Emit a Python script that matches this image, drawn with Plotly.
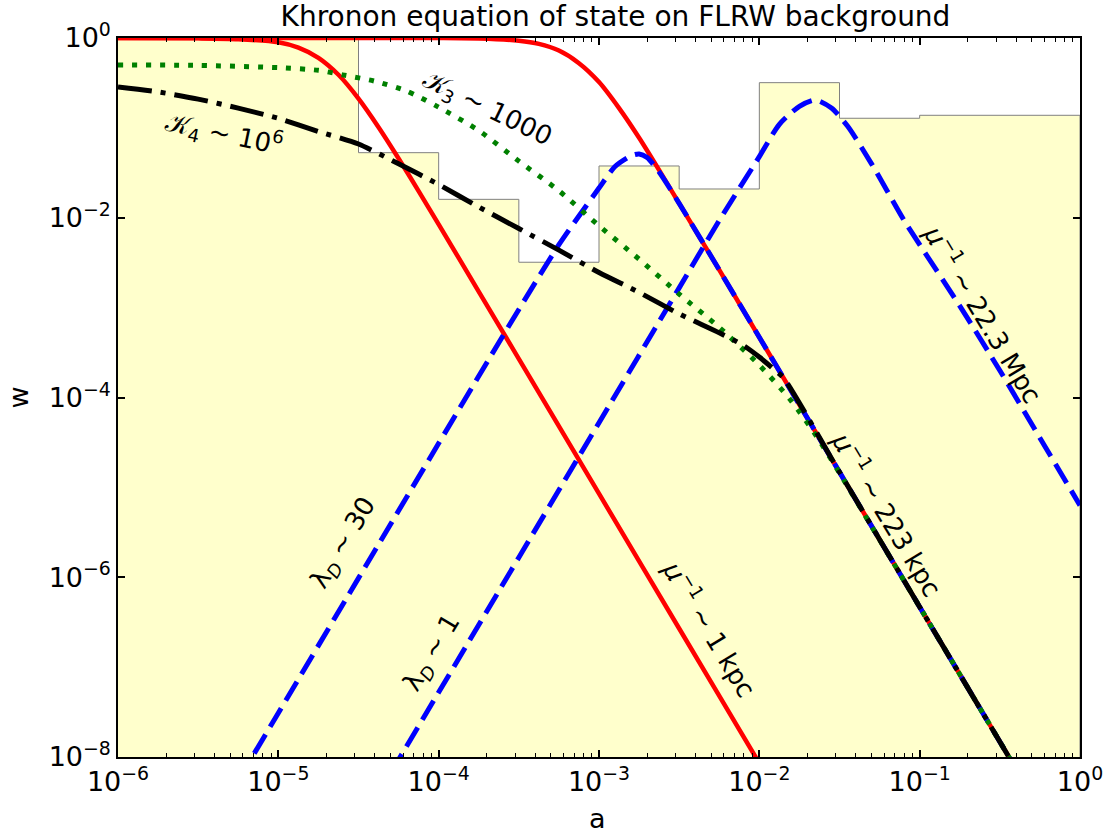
import numpy as np
import plotly.graph_objects as go

# shaded background: log10 bin edges in a and log10 bin heights in w
bin_edges_loga = [-6.0, -4.5, -4.0, -3.5, -3.0, -2.5, -2.0, -1.5, -1.0, 0.0]
bin_logw = [0.3, -1.276, -1.795, -2.495, -1.424, -1.68, -0.497, -0.893, -0.86]

# red solid, mu^-1 ~ 1 kpc
red_kpc_loga = [-6.0, -5.5, -5.25, -5.0, -4.875, -4.75, -4.625, -4.5, -4.375, -4.25,
                -4.125, -4.0, -3.75, -3.5, -3.0, -2.5, -2.0, -1.9]
red_kpc_logw = [0.0, -0.004, -0.013, -0.048, -0.107, -0.22, -0.409, -0.674, -0.992, -1.34,
                -1.703, -2.074, -2.821, -3.57, -5.07, -6.57, -8.07, -8.37]

# red solid, mu^-1 ~ 223 kpc
red_223_loga = [-6.0, -4.0, -3.75, -3.5, -3.375, -3.25, -3.125, -3.0, -2.875, -2.75,
                -2.625, -2.5, -2.25, -2.0, -1.5, -1.0, -0.5, -0.35]
red_223_logw = [0.0, 0.0, -0.005, -0.03, -0.065, -0.14, -0.28, -0.49, -0.78, -1.11,
                -1.47, -1.84, -2.58, -3.33, -4.83, -6.33, -7.83, -8.28]

# blue dashed, lambda_D ~ 30
blue_30_loga = [-5.25, -5.0, -4.5, -4.0, -3.5, -3.25, -3.125, -3.0, -2.9, -2.8, -2.75,
                -2.7, -2.625, -2.5, -2.25, -2.0, -1.5, -1.0, -0.5, -0.35]
blue_30_logw = [-8.26, -7.51, -6.01, -4.51, -3.02, -2.30, -1.98, -1.67, -1.43, -1.31, -1.29,
                -1.33, -1.49, -1.84, -2.58, -3.33, -4.83, -6.33, -7.83, -8.28]

# blue dashed, lambda_D ~ 1 (mu^-1 ~ 22.3 Mpc)
blue_1_loga = [-4.3, -4.0, -3.5, -3.0, -2.5, -2.25, -2.0, -1.875, -1.75, -1.65, -1.55,
               -1.45, -1.3, -1.1, -1.0, -0.75, -0.5, -0.25, 0.0]
blue_1_logw = [-8.18, -7.28, -5.78, -4.28, -2.78, -2.03, -1.32, -0.96, -0.76, -0.69, -0.78,
               -0.98, -1.40, -2.02, -2.30, -2.98, -3.70, -4.45, -5.20]

# green dotted, K3 ~ 1000
green_loga = [-6.0, -5.5, -5.0, -4.75, -4.6, -4.4, -4.2, -4.0, -3.75, -3.5, -3.25, -3.0,
              -2.75, -2.5, -2.25, -2.0, -1.8, -1.64, -1.5, -1.0, -0.5, -0.35]
green_logw = [-0.30, -0.305, -0.33, -0.36, -0.41, -0.48, -0.59, -0.77, -1.03, -1.37, -1.70,
              -2.09, -2.46, -2.85, -3.22, -3.64, -4.04, -4.44, -4.84, -6.33, -7.83, -8.28]

# black dash-dot, K4 ~ 10^6
black_loga = [-6.0, -5.75, -5.5, -5.25, -5.0, -4.75, -4.5, -4.25, -4.0, -3.75, -3.5, -3.25,
              -3.0, -2.75, -2.5, -2.25, -2.1, -2.0, -1.9, -1.85, -1.5, -1.0, -0.5, -0.35]
black_logw = [-0.545, -0.60, -0.68, -0.78, -0.894, -1.04, -1.18, -1.40, -1.63, -1.88, -2.12,
              -2.36, -2.61, -2.83, -3.07, -3.28, -3.42, -3.55, -3.70, -3.78, -4.83, -6.33,
              -7.83, -8.28]

x_tick_exps = [-6, -5, -4, -3, -2, -1, 0]
y_tick_exps = [-8, -6, -4, -2, 0]

FONT = "DejaVu Sans"

fig = go.Figure()

# background histogram as a closed step polygon
step_x, step_y = [], []
for i, v in enumerate(bin_logw):
    step_x += [bin_edges_loga[i], bin_edges_loga[i + 1]]
    step_y += [v, v]
step_x += [bin_edges_loga[-1], bin_edges_loga[0]]
step_y += [-10, -10]
fig.add_trace(go.Scatter(
    x=10 ** np.array(step_x), y=10 ** np.array(step_y),
    fill="toself", fillcolor="#FFFFCC", mode="lines",
    line={"color": "#808080", "width": 1}, hoverinfo="skip", showlegend=False,
))

curves = [
    (red_kpc_loga, red_kpc_logw, "red", 4.5, "solid"),
    (red_223_loga, red_223_logw, "red", 4.5, "solid"),
    (blue_30_loga, blue_30_logw, "blue", 5, "22px,9px"),
    (blue_1_loga, blue_1_logw, "blue", 5, "22px,9px"),
    (green_loga, green_logw, "green", 5, "5px,9px"),
    (black_loga, black_logw, "black", 5, "34px,9px,5px,9px"),
]
for la, lw, color, width, dash in curves:
    fig.add_trace(go.Scatter(
        x=10 ** np.array(la), y=10 ** np.array(lw), mode="lines",
        line={"color": color, "width": width, "dash": dash, "shape": "spline", "smoothing": 0.7},
        showlegend=False,
    ))

# rotated curve labels (positions in log10 units)
labels = [
    ("𝒦<sub>4</sub> ~ 10<sup>6</sup>", -5.333, -1.057, 12),
    ("𝒦<sub>3</sub> ~ 1000", -3.70, -0.782, 26),
    ("λ<sub><i>D</i></sub> ~ 30", -4.595, -5.62, -59),
    ("λ<sub><i>D</i></sub> ~ 1", -4.043, -6.844, -59),
    ("<i>μ</i><sup>−1</sup> ~ 1 kpc", -2.305, -6.566, 59),
    ("<i>μ</i><sup>−1</sup> ~ 223 kpc", -1.200, -5.287, 59),
    ("<i>μ</i><sup>−1</sup> ~ 22.3 Mpc", -0.600, -3.062, 59),
]
for text, x, y, ang in labels:
    fig.add_annotation(x=x, y=y, xref="x", yref="y", text=text, showarrow=False,
                       textangle=ang, font={"family": FONT, "size": 26, "color": "black"})

# axis titles
fig.add_annotation(x=0, y=0.5, xref="paper", yref="paper", xshift=-100, text="w",
                   xanchor="center", yanchor="middle", showarrow=False, textangle=-90,
                   font={"family": FONT, "size": 27, "color": "black"})
fig.add_annotation(x=0.498, y=0, xref="paper", yref="paper", yshift=-61, text="a",
                   xanchor="center", yanchor="middle", showarrow=False,
                   font={"family": FONT, "size": 27, "color": "black"})

axis_common = dict(
    type="log", showgrid=False, zeroline=False, showline=True, linecolor="black",
    linewidth=1.5, mirror="ticks", ticks="inside", ticklen=7, tickwidth=1.5,
    tickcolor="black", tickfont={"family": FONT, "size": 27, "color": "black"},
    automargin=False,
)
fig.update_xaxes(
    range=[-6, 0],
    tickvals=[10.0 ** e for e in x_tick_exps],
    ticktext=[f"10<sup>{'−' if e < 0 else ''}{abs(e)}</sup>" for e in x_tick_exps],
    minor={"tickvals": [k * 10.0 ** e for e in range(-6, 0) for k in range(2, 10)],
           "ticks": "inside", "ticklen": 4, "tickwidth": 1, "tickcolor": "black"},
    **axis_common,
)
fig.update_yaxes(
    range=[-8, 0],
    tickvals=[10.0 ** e for e in y_tick_exps],
    ticktext=[f"10<sup>{'−' if e < 0 else ''}{abs(e)}</sup>" for e in y_tick_exps],
    **axis_common,
)

fig.update_layout(
    title={"text": "Khronon equation of state on FLRW background", "x": 0.556, "xanchor": "center",
           "y": 0.980, "yanchor": "middle", "yref": "container",
           "font": {"family": FONT, "size": 28, "color": "black"}},
    width=1107, height=834,
    margin={"l": 118, "r": 27, "t": 38, "b": 77, "autoexpand": False},
    plot_bgcolor="white", paper_bgcolor="white",
    font={"family": FONT, "color": "black"},
)

# drop the browser's default body margin so the figure sits at the page corner
fig.write_html("out.html", config={"displayModeBar": False},
               post_script="document.body.style.margin = '0px';")
